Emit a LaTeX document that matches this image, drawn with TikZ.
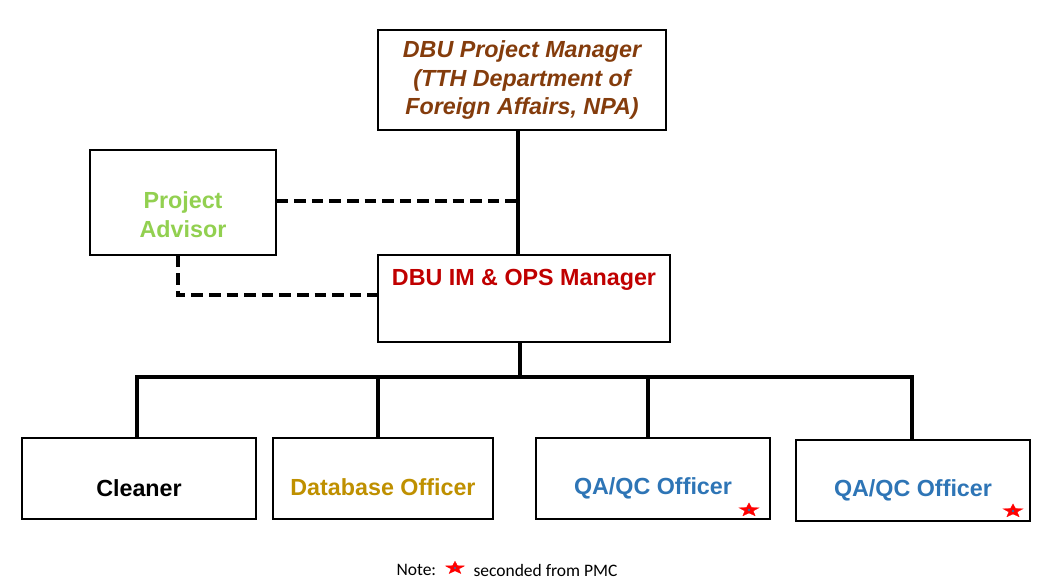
\documentclass[tikz,border=0pt]{standalone}
\usepackage{fontspec}
\setmainfont{Liberation Sans}
\newfontfamily\notefont{Carlito}
\usetikzlibrary{shapes.geometric}
\definecolor{pmbrown}{HTML}{843C0C}
\definecolor{pagreen}{HTML}{92D050}
\definecolor{imred}{HTML}{C00000}
\definecolor{dbgold}{HTML}{BF9000}
\definecolor{qablue}{HTML}{2E75B6}
\tikzset{
  box/.style={draw=black, line width=1.2pt, fill=white, rectangle, inner sep=0pt},
  big/.style={font=\fontsize{23.3}{28.5}\selectfont\bfseries, align=center},
  solidline/.style={line width=3.8pt},
  dashline/.style={line width=3.4pt, dash pattern=on 11.6pt off 6pt},
  redstar/.style={star, star points=5, star point ratio=2.4, fill=red, draw=red, line width=0.3pt, minimum size=21pt, inner sep=0pt, yscale=0.68, transform shape}
}
\begin{document}
\begin{tikzpicture}[x=1pt,y=-1pt]
\useasboundingbox (0,0) rectangle (1041,584);
% boxes
\node[box, minimum width=288pt, minimum height=100pt, big, text=pmbrown] (pm) at (522,80)
  {\itshape DBU Project Manager\\\itshape (TTH Department of\\\itshape Foreign Affairs, NPA)};
\node[box, minimum width=186pt, minimum height=105pt,
  label={[big, text=pagreen, anchor=center, yshift=-12pt]center:Project\\Advisor}] (pa) at (183,202.5) {};
\node[box, minimum width=292pt, minimum height=87pt,
  label={[big, text=imred, anchor=center, yshift=-25pt]north:DBU IM \& OPS Manager}] (im) at (524,298.5) {};
\node[box, minimum width=234pt, minimum height=81pt,
  label={[big, text=black, anchor=center, yshift=-10pt]center:Cleaner}] (cl) at (139,478.5) {};
\node[box, minimum width=220pt, minimum height=81pt,
  label={[big, text=dbgold, anchor=center, yshift=-9pt]center:Database Officer}] (db) at (383,478.5) {};
\node[box, minimum width=234pt, minimum height=81pt,
  label={[big, text=qablue, anchor=center, yshift=-10pt]center:QA/QC Officer}] (qa1) at (653,478.5) {};
\node[box, minimum width=234pt, minimum height=81pt,
  label={[big, text=qablue, anchor=center, yshift=-10pt]center:QA/QC Officer}] (qa2) at (913,480.5) {};
% stars
\node[redstar] (s1) at (749,510) {};
\node[redstar] (s2) at (1013,511) {};
\fill[qablue] (s1) circle (1.3pt);
\fill[qablue] (s2) circle (1.3pt);
% coordinates
\coordinate (jx) at (518,0);
\coordinate (ix) at (520,0);
\coordinate (busL) at (137,377);
\coordinate (busR) at (912,377);
\coordinate (bend) at (178,295);
% connectors
\draw[solidline] (pm.south -| jx) -- (im.north -| jx);
\draw[dashline] (pa.east |- 0,201) -- (jx |- 0,201);
\draw[dashline] (pa.south -| bend) -- (bend) -- (im.west |- bend);
\draw[solidline] (im.south -| ix) -- (ix |- busL);
\draw[solidline, line cap=rect] (busL) -- (busR);
\draw[solidline] (busL) -- (busL |- cl.north);
\draw[solidline] (378,377) -- (378,438);
\draw[solidline] (648,377) -- (648,438);
\draw[solidline] (busR) -- (busR |- qa2.north);
% note
\node[font=\notefont\fontsize{17.5}{20}\selectfont, anchor=west] (note) at (393,570) {Note:};
\node[redstar, minimum size=20pt] (ns) at (455,568) {};
\fill[qablue] (ns) circle (1.2pt);
\node[font=\notefont\fontsize{17.5}{20}\selectfont, anchor=west] (sec) at (470,570) {seconded from PMC};
\end{tikzpicture}
\end{document}
